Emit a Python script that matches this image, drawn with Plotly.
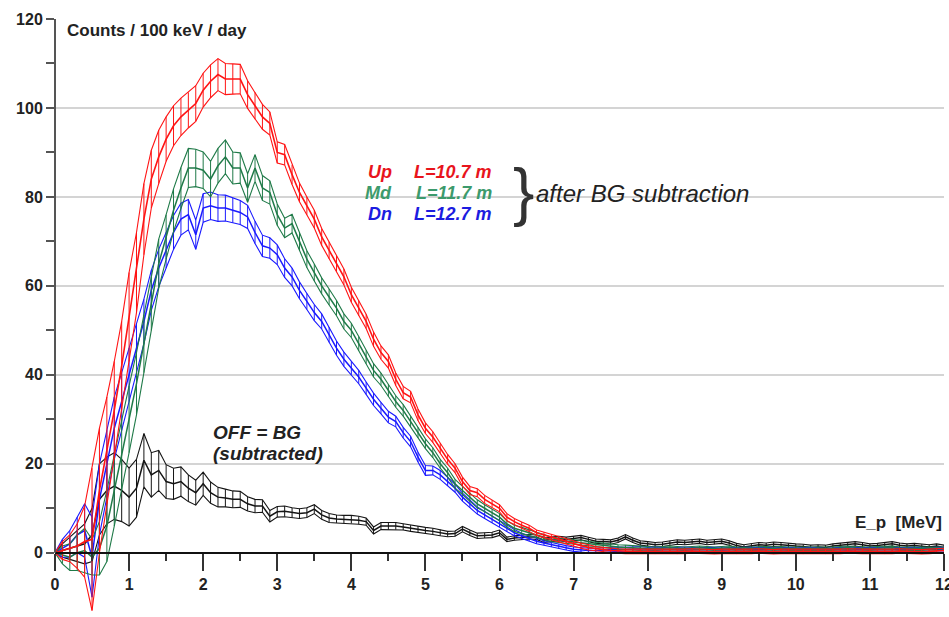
import plotly.graph_objects as go

# Proton energy bins, 100 keV wide, 0 .. 12 MeV
E_MEV = [round(0.1 * i, 1) for i in range(121)]

# Up detector, L = 10.7 m (counts / 100 keV / day, BG subtracted)
UP = [0, 0.5, 1, 1.5, 2.5, 3, 14, 23, 32, 42,
      53, 63, 75, 84, 89, 93, 96, 98, 99.5, 101,
      104, 106, 107.5, 106.5, 106.5, 106.5, 103, 100.5, 98, 96.5,
      90, 89.5, 85, 81, 78, 75, 71, 68, 65, 62,
      58, 55, 52, 48, 45, 43, 39, 36, 35, 31,
      28, 26, 23.5, 21, 19, 16, 14, 13.5, 12, 11,
      10, 8, 7, 6.2, 5.5, 4.5, 4, 3.5, 3, 2.5,
      2, 1.6, 1.2, 0.9, 0.7, 0.5, 0.4, 0.3, 0.3, 0.3,
      0.3, 0.2, 0.3, 0.3, 0.2, 0.3, 0.4, 0.3, 0.3, 0.2,
      0.3, 0.3, 0.2, 0.3, 0.3, 0.4, 0.3, 0.2, 0.3, 0.3,
      0.3, 0.2, 0.3, 0.3, 0.2, 0.3, 0.3, 0.4, 0.3, 0.3,
      0.3, 0.3, 0.2, 0.3, 0.4, 0.3, 0.3, 0.2, 0.3, 0.4,
      0.5]
UP_ERR = [0, 2, 3, 5, 8, 16, 14, 12, 11, 10,
          10, 9, 8, 6.5, 6, 5, 4.5, 4.2, 4, 4,
          3.8, 3.7, 3.6, 3.5, 3.4, 3.3, 3.1, 3, 2.8, 2.6,
          2.4, 2.3, 2.2, 2.1, 2, 2, 1.9, 1.9, 1.8, 1.8,
          1.7, 1.7, 1.6, 1.6, 1.5, 1.5, 1.4, 1.4, 1.3, 1.3,
          1.2, 1.2, 1.1, 1.1, 1.0, 1.0, 0.9, 0.9, 0.9, 0.8,
          0.8, 0.8, 0.7, 0.7, 0.7, 0.6, 0.6, 0.6, 0.6, 0.6,
          0.6, 0.6, 0.6, 0.5, 0.5, 0.5, 0.5, 0.5, 0.5, 0.5,
          0.5, 0.5, 0.5, 0.5, 0.5, 0.5, 0.5, 0.5, 0.5, 0.5,
          0.5, 0.5, 0.5, 0.5, 0.5, 0.5, 0.5, 0.5, 0.5, 0.5,
          0.5, 0.5, 0.5, 0.5, 0.5, 0.5, 0.5, 0.5, 0.5, 0.5,
          0.5, 0.5, 0.5, 0.5, 0.5, 0.5, 0.5, 0.5, 0.5, 0.5,
          0.5]

# Middle detector, L = 11.7 m
MD = [0, -0.5, -1, 0, 0.5, -1, 1, 6, 14, 22,
      30, 38, 47, 56, 65, 71, 77, 82, 86.5, 86.5,
      86, 84, 87, 89, 86.5, 86.5, 82, 86.5, 82, 81,
      76, 73, 74, 70, 66, 63, 60, 57.5, 55, 52,
      50, 47, 44, 41, 39, 36.5, 34, 32, 29.5, 27,
      24.5, 22.5, 20, 18, 15.5, 14, 12.5, 11, 10, 9,
      8, 6.5, 5.5, 5, 4.5, 4, 3.5, 3, 2.8, 2.6,
      2.4, 2.2, 2, 1.8, 1.6, 1.4, 1.3, 1.2, 1.1, 1.0,
      1.0, 0.9, 1.0, 1.1, 1.0, 0.9, 1.0, 1.1, 1.0, 0.9,
      1.0, 1.1, 0.9, 0.8, 0.9, 1.0, 1.0, 0.9, 1.0, 0.9,
      0.9, 0.8, 0.8, 0.9, 0.8, 0.9, 1.0, 1.1, 1.0, 0.9,
      0.9, 1.0, 1.0, 1.1, 0.9, 0.9, 1.0, 0.9, 0.8, 0.9,
      0.9]
MD_ERR = [0, 2, 3, 4, 5, 4, 6, 8, 8, 8,
          7.5, 7, 6.5, 6, 5.5, 5, 4.8, 4.6, 4.4, 4.2,
          4.1, 4, 3.9, 3.8, 3.6, 3.4, 3.2, 3, 2.8, 2.6,
          2.4, 2.2, 2.1, 2, 1.9, 1.9, 1.8, 1.8, 1.7, 1.7,
          1.6, 1.6, 1.5, 1.5, 1.4, 1.4, 1.3, 1.3, 1.2, 1.2,
          1.1, 1.1, 1.0, 1.0, 1.0, 0.9, 0.9, 0.9, 0.8, 0.8,
          0.8, 0.7, 0.7, 0.7, 0.6, 0.6, 0.6, 0.5, 0.5, 0.5,
          0.5, 0.5, 0.5, 0.5, 0.5, 0.5, 0.5, 0.5, 0.5, 0.5,
          0.4, 0.4, 0.4, 0.4, 0.4, 0.4, 0.4, 0.4, 0.4, 0.4,
          0.4, 0.4, 0.4, 0.4, 0.4, 0.4, 0.4, 0.4, 0.4, 0.4,
          0.4, 0.4, 0.4, 0.4, 0.4, 0.4, 0.4, 0.4, 0.4, 0.4,
          0.4, 0.4, 0.4, 0.4, 0.4, 0.4, 0.4, 0.4, 0.4, 0.4,
          0.4]

# Downstream detector, L = 12.7 m
DN = [0, 1, 2, 4, 5, -1, 12, 20, 28, 34,
      40, 46, 52, 59, 64, 68, 72, 75, 76, 71.5,
      77.5, 78, 77.5, 77.5, 77, 76.5, 75.5, 72, 69, 68.5,
      67, 64, 62, 59, 56.5, 54, 52, 49, 46, 43.5,
      41.5, 39.5, 37, 34.5, 32.5, 30.5, 29.5, 27, 25, 21.5,
      18.5, 18.5, 17.5, 16, 14.5, 12.5, 11, 9.5, 8.5, 7.5,
      6.5, 5.5, 4.5, 3.8, 3.2, 2.6, 2.2, 1.8, 1.4, 1.1,
      0.8, 0.6, 0.5, 0.5, 0.6, 0.7, 0.8, 0.7, 0.8, 0.9,
      0.8, 0.9, 0.8, 0.7, 0.8, 0.9, 0.8, 0.8, 0.7, 0.8,
      0.9, 0.8, 0.7, 0.8, 0.8, 0.9, 0.8, 0.7, 0.8, 0.8,
      0.7, 0.8, 0.8, 0.7, 0.6, 0.7, 0.8, 0.9, 0.8, 0.7,
      0.8, 0.8, 0.9, 0.8, 0.7, 0.8, 0.8, 0.7, 0.8, 0.8,
      0.8]
DN_ERR = [0, 2, 3, 4, 6, 9, 8, 7.5, 7, 6.5,
          6, 5.5, 5, 4.5, 4.2, 4, 3.8, 3.6, 3.4, 3.3,
          3.2, 3.1, 3, 2.9, 2.8, 2.7, 2.6, 2.5, 2.4, 2.3,
          2.2, 2.1, 2, 1.9, 1.8, 1.8, 1.7, 1.7, 1.6, 1.6,
          1.5, 1.5, 1.4, 1.4, 1.3, 1.3, 1.2, 1.2, 1.2, 1.1,
          1.1, 1.0, 1.0, 1.0, 0.9, 0.9, 0.9, 0.8, 0.8, 0.8,
          0.7, 0.7, 0.7, 0.6, 0.6, 0.6, 0.5, 0.5, 0.5, 0.5,
          0.5, 0.5, 0.5, 0.5, 0.5, 0.5, 0.5, 0.5, 0.5, 0.5,
          0.4, 0.4, 0.4, 0.4, 0.4, 0.4, 0.4, 0.4, 0.4, 0.4,
          0.4, 0.4, 0.4, 0.4, 0.4, 0.4, 0.4, 0.4, 0.4, 0.4,
          0.4, 0.4, 0.4, 0.4, 0.4, 0.4, 0.4, 0.4, 0.4, 0.4,
          0.4, 0.4, 0.4, 0.4, 0.4, 0.4, 0.4, 0.4, 0.4, 0.4,
          0.4]

# Reactor-OFF background (already subtracted from the three above)
OFF = [0, 0.5, 1, 1.5, 2, 4, 12, 14, 15, 14,
       12.5, 14.5, 20.8, 17.5, 18.5, 16, 15.5, 16, 14.5, 13.5,
       15.5, 13.5, 12.5, 12.3, 12, 12, 11, 10.5, 10.5, 8.2,
       9.2, 9.3, 9, 8.8, 9, 9.8, 8.5, 7.8, 7.6, 7.5,
       7.5, 7.3, 7, 5, 6, 6, 6, 5.8, 5.5, 5.3,
       5, 4.8, 4.5, 4.2, 4.3, 5.3, 4.5, 3.8, 3.9, 4,
       4.5, 3, 3.3, 3.4, 3.6, 3.5, 2.8, 3, 3.2, 3,
       3.2, 3.4, 3, 2.6, 2.5, 2.4, 2.8, 3.6, 2.8, 2.2,
       2, 1.8, 1.9, 2.2, 2.4, 2.3, 2.5, 2.6, 2.3, 2.4,
       2.6, 2.2, 1.6, 1.3, 1.6, 1.8, 1.7, 1.9, 1.8, 1.6,
       1.5, 1.4, 1.2, 1.3, 1.2, 1.5, 1.7, 1.9, 2.0, 1.8,
       1.5, 1.6, 1.8, 2.0, 1.7, 1.5, 1.6, 1.4, 1.3, 1.5,
       1.2]
OFF_ERR = [0, 1.5, 2.5, 3.5, 4.5, 6, 8, 7.5, 7.5, 7,
           6.5, 6.5, 6, 5, 4.5, 3.8, 3.5, 3.3, 3, 2.8,
           2.6, 2.4, 2.2, 2, 1.9, 1.8, 1.6, 1.5, 1.4, 1.3,
           1.2, 1.2, 1.1, 1.1, 1.1, 1.0, 1.0, 1.0, 0.9, 0.9,
           0.9, 0.9, 0.8, 0.8, 0.8, 0.8, 0.8, 0.7, 0.7, 0.7,
           0.7, 0.7, 0.7, 0.6, 0.6, 0.6, 0.6, 0.6, 0.6, 0.6,
           0.6, 0.5, 0.5, 0.5, 0.5, 0.5, 0.5, 0.5, 0.5, 0.5,
           0.5, 0.5, 0.5, 0.5, 0.5, 0.5, 0.5, 0.5, 0.5, 0.5,
           0.5, 0.5, 0.5, 0.5, 0.5, 0.5, 0.5, 0.5, 0.5, 0.5,
           0.5, 0.5, 0.5, 0.5, 0.5, 0.5, 0.5, 0.5, 0.5, 0.5,
           0.5, 0.5, 0.5, 0.5, 0.5, 0.5, 0.5, 0.5, 0.5, 0.5,
           0.5, 0.5, 0.5, 0.5, 0.5, 0.5, 0.5, 0.5, 0.5, 0.5,
           0.5]

Y_TICKS = [0, 20, 40, 60, 80, 100, 120]
Y_MINOR = [10, 30, 50, 70, 90, 110]
Y_RANGE = [-14, 120]

FONT = "Liberation Sans, Arial, sans-serif"

SERIES = [
    ("OFF", OFF, OFF_ERR, "#151515", 1.5),
    ("Dn", DN, DN_ERR, "#1a1aff", 1.5),
    ("Md", MD, MD_ERR, "#1f7a48", 1.5),
    ("Up", UP, UP_ERR, "#ff1414", 1.6),
]

fig = go.Figure()
for name, vals, errs, col, lw in SERIES:
    hi = [v + e for v, e in zip(vals, errs)]
    lo = [v - e for v, e in zip(vals, errs)]
    for band in (hi, lo):
        fig.add_trace(go.Scatter(x=E_MEV, y=band, mode="lines",
                                 line=dict(color=col, width=1.1),
                                 hoverinfo="skip", showlegend=False))
    fig.add_trace(go.Scatter(
        x=E_MEV, y=vals, mode="lines", name=name,
        line=dict(color=col, width=lw),
        error_y=dict(type="data", array=errs, visible=True,
                     thickness=1, width=0, color=col),
        showlegend=False))

# x axis sits on the y = 0 line, inside the extended y range
x_axis_pos = (0 - Y_RANGE[0]) / (Y_RANGE[1] - Y_RANGE[0])

fig.update_layout(
    template="none",
    width=949, height=617,
    margin=dict(l=55, r=5, t=19, b=2),
    paper_bgcolor="white", plot_bgcolor="white",
    font=dict(family=FONT, color="#222"),
    showlegend=False,
    xaxis=dict(range=[0, 12], dtick=1, tick0=0, automargin=False,
               anchor="free", position=x_axis_pos,
               showline=True, linecolor="#111", linewidth=2,
               ticks="outside", ticklen=17, tickwidth=2, tickcolor="#333",
               ticklabeloverflow="allow",
               tickfont=dict(size=16, weight="bold", color="#222"),
               minor=dict(dtick=0.5, ticks="outside", ticklen=7,
                          tickwidth=2, tickcolor="#333", showgrid=False),
               showgrid=False, zeroline=False),
    yaxis=dict(range=Y_RANGE, tickmode="array", tickvals=Y_TICKS,
               automargin=False,
               showline=False, ticks="outside", ticklen=8, tickwidth=2,
               tickcolor="#555",
               tickfont=dict(size=16, weight="bold", color="#222"),
               minor=dict(tickmode="array", tickvals=Y_MINOR,
                          ticks="outside", ticklen=8, tickwidth=2,
                          tickcolor="#555", showgrid=False),
               showgrid=True, gridcolor="#d4d4d4", gridwidth=2,
               zeroline=False),
)

# left axis spine from 0 to 120 only
fig.add_shape(type="line", xref="paper", yref="y", x0=0, x1=0,
              y0=Y_TICKS[0], y1=Y_TICKS[-1],
              line=dict(color="#555", width=2), layer="above")

def note(x, y, text, size, color="#222", xanchor="left", weight="bold",
         style="normal"):
    fig.add_annotation(x=x, y=y, xref="x", yref="y", text=text,
                       showarrow=False, xanchor=xanchor, yanchor="middle",
                       font=dict(family=FONT, size=size, color=color,
                                 weight=weight, style=style))

note(0.14, 117.5, "Counts / 100 keV / day", 17)
note(12.0, 6.7, "E_p  [MeV]", 17, xanchor="right")

note(4.2, 85.6, "Up", 18, "#e8141c", style="italic")
note(5.93, 85.6, "L=10.7 m", 18, "#e8141c", xanchor="right", style="italic")
note(4.16, 80.9, "Md", 18, "#3c9a6c", style="italic")
note(5.93, 80.9, "L=11.7 m", 18, "#3c9a6c", xanchor="right", style="italic")
note(4.2, 76.1, "Dn", 18, "#1c1ce0", style="italic")
note(5.93, 76.1, "L=12.7 m", 18, "#1c1ce0", xanchor="right", style="italic")
note(6.16, 81.2, "}", 64, "#333", weight="normal")
note(6.46, 80.7, "after BG subtraction", 24, "#222", weight="normal",
     style="italic")

note(2.1, 27.1, "OFF = BG", 19, "#222", style="italic")
note(2.1, 22.4, "(subtracted)", 19, "#222", style="italic")

fig.write_html("out.html")
